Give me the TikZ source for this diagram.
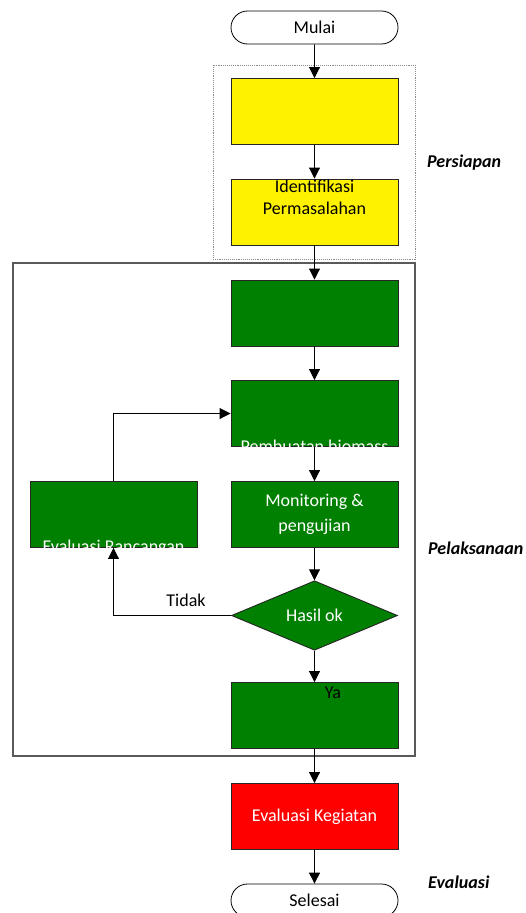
\documentclass[tikz,border=0pt]{standalone}
\usepackage{fontspec}
\setmainfont{Carlito}
\usetikzlibrary{arrows.meta,shapes.geometric,shapes.misc}
\definecolor{boxgreen}{RGB}{0,128,0}
\definecolor{framegray}{RGB}{90,90,90}
\begin{document}
\begin{tikzpicture}[x=1pt,y=-1pt,
 font=\fontsize{18}{22}\selectfont,
 box/.style={draw=black!85,line width=0.9pt,minimum width=167pt,minimum height=66pt,inner sep=0pt,align=center},
 term/.style={draw=black,line width=0.8pt,rounded rectangle,minimum width=167pt,minimum height=33pt,inner sep=0pt},
 arr/.style={line width=0.9pt,-{Triangle[length=11pt,width=11pt]}},
 phase/.style={anchor=west,inner sep=0pt,font=\fontsize{18}{22}\selectfont\bfseries\itshape}]
 \clip (0,0) rectangle (526,913);
 \draw[framegray!70,densely dotted,line width=0.9pt](213,65) rectangle (415,259);
 \draw[framegray,line width=1.1pt](13,263) rectangle (415,756);
 \node (mulai) [term] at (314.5,27.5) {Mulai};
 \node (prep) [box,fill=yellow] at (314.5,111.5) {};
 \node (ident) [box,fill=yellow] at (314.5,212) {};
 \node (identtext) [anchor=north,inner sep=0pt,align=center] at ([yshift=-1pt]ident.north) {Identifikasi\\Permasalahan};
 \node (desain) [box,fill=boxgreen] at (314.5,313) {};
 \node (buat) [box,fill=boxgreen] at (314.5,413.5) {};
 \node (evalr) [box,fill=boxgreen] at (113.5,514.5) {};
 \node (monitor) [box,fill=boxgreen,text=white,font=\fontsize{18}{25}\selectfont] at (314.5,514.5) {Monitoring \&\\pengujian};
 \node (hasil) [diamond,draw=black!85,line width=0.9pt,fill=boxgreen,text=white,inner sep=0pt,minimum width=166pt,minimum height=65pt] at (314.5,615.5) {Hasil ok};
 \node (akhir) [box,fill=boxgreen] at (314.5,715.5) {};
 \node (evalk) [box,fill=red,text=white] at (314.5,816.5) {Evaluasi Kegiatan};
 \node (selesai) [term] at (314.5,900.5) {Selesai};
 \begin{scope}
  \clip (buat.south west) rectangle (buat.north east);
  \node (buattext) [anchor=base,text=white] at (314.5,452) {Pembuatan biomass};
 \end{scope}
 \begin{scope}
  \clip (evalr.south west) rectangle (evalr.north east);
  \node (evalrtext) [anchor=base,text=white] at (113.5,552) {Evaluasi Rancangan};
 \end{scope}
 \draw[arr] (mulai) -- (prep);
 \draw[arr] (prep) -- (ident);
 \draw[arr] (ident) -- (desain);
 \draw[arr] (desain) -- (buat);
 \draw[arr] (buat) -- (monitor);
 \draw[arr] (monitor) -- (hasil);
 \draw[arr] (hasil) -- (akhir);
 \draw[arr] (akhir) -- (evalk);
 \draw[arr] (evalk) -- (selesai);
 \draw[arr] (evalr.north) |- (buat.west);
 \draw[arr] (hasil.west) -| (evalr.south);
 \node (tidak) at (186,600) {Tidak};
 \node (ya) at (333,693) {Ya};
 \node (persiapan) [phase] at (427,163) {Persiapan};
 \node (pelaksanaan) [phase] at (428,548) {Pelaksanaan};
 \node (evaluasi) [phase] at (428,882) {Evaluasi};
\end{tikzpicture}
\end{document}
